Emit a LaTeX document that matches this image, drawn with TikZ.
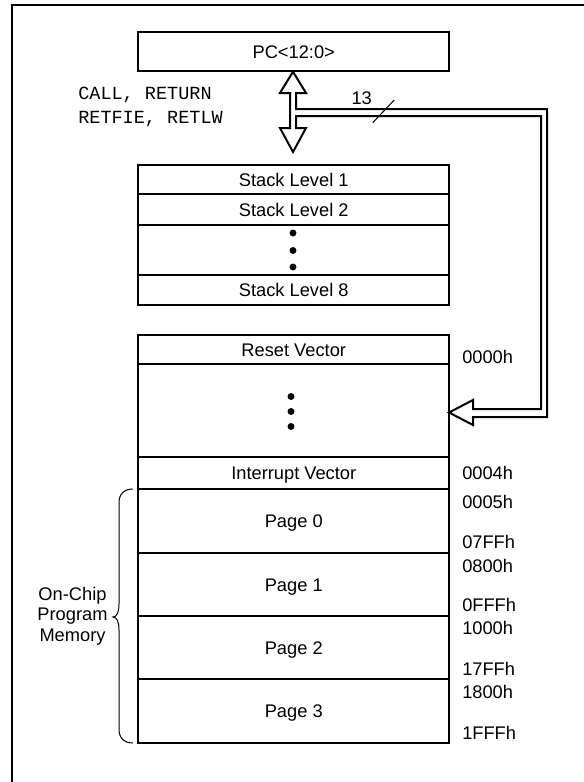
\documentclass[tikz,border=0pt]{standalone}
\usepackage{fontspec}
\setmainfont{Liberation Sans}
\setmonofont{Liberation Mono}
\begin{document}
\begin{tikzpicture}[x=0.75pt,y=-0.75pt,
  txt/.style={font=\fontsize{13.7}{15.4}\selectfont, inner sep=0pt, text height=9.8pt, text depth=0pt},
  cell/.style={txt, draw, line width=1.5pt, minimum width=232.9pt},
  addr/.style={txt, anchor=west},
  mono/.style={font=\ttfamily\fontsize{13.9}{18}\selectfont, inner sep=0pt, text height=8pt, text depth=0pt, anchor=west},
  bus/.style={line width=1.5pt, line join=miter},
  dotmark/.style={circle, fill, inner sep=0pt, minimum size=5.2pt}
]
\useasboundingbox (0,0) rectangle (584,782);
% frame (only left and top edges visible)
\draw[line width=1.5pt] (12,782) -- (12,5) -- (584,5);

% PC box
\node[cell, minimum height=28.8pt] (pc) at (293.75,51.5) {PC<12:0>};

% stack
\node[cell, minimum height=21.75pt] (s1) at (293.75,179.5) {Stack Level 1};
\node[cell, minimum height=23.25pt] (s2) at (293.75,209.5) {Stack Level 2};
\node[cell, minimum height=37.5pt] (sd) at (293.75,250) {};
\node[cell, minimum height=22.5pt] (s8) at (293.75,290) {Stack Level 8};
\node[dotmark] (sd1) at (293,233) {};
\node[dotmark] (sd2) at (293,250.5) {};
\node[dotmark] (sd3) at (293,267) {};

% memory map
\node[cell, minimum height=21.75pt] (rv) at (293.75,349.5) {Reset Vector};
\node[cell, minimum height=69.75pt] (md) at (293.75,410.5) {};
\node[cell, minimum height=24pt] (iv) at (293.75,473) {Interrupt Vector};
\node[cell, minimum height=48pt] (p0) at (293.75,521) {Page 0};
\node[cell, minimum height=47.25pt] (p1) at (293.75,584.5) {Page 1};
\node[cell, minimum height=47.25pt] (p2) at (293.75,647.5) {Page 2};
\node[cell, minimum height=48pt] (p3) at (293.75,711) {Page 3};
\node[dotmark] (md1) at (291,396.5) {};
\node[dotmark] (md2) at (291,411.5) {};
\node[dotmark] (md3) at (291,426.5) {};

% addresses
\node[addr] (a0) at (462,357) {0000h};
\node[addr] (a4) at (462,473) {0004h};
\node[addr] (a5) at (462,502) {0005h};
\node[addr] (a7ff) at (462,542) {07FFh};
\node[addr] (a800) at (462,566) {0800h};
\node[addr] (afff) at (462,605) {0FFFh};
\node[addr] (a1000) at (462,628) {1000h};
\node[addr] (a17ff) at (462,669) {17FFh};
\node[addr] (a1800) at (462,692) {1800h};
\node[addr] (a1fff) at (462,733) {1FFFh};

% instruction labels
\node[mono] (calltxt) at (78,94) {CALL, RETURN};
\node[mono] (rettxt) at (78,118) {RETFIE, RETLW};

% hollow double arrow and bus to memory
\coordinate (tipup) at (pc.south -| 293,0);
\coordinate (tipmem) at (449,412.5);
\draw[bus] (tipup) -- (306,93) -- (296,93) -- (296,109) -- (547,109) -- (547,417)
  -- (473,417) -- (473,425) -- (tipmem) -- (473,400) -- (473,409) -- (541,409)
  -- (541,116) -- (296,116) -- (296,128) -- (306,128) -- (293,152) -- (280,128)
  -- (290,128) -- (290,93) -- (280,93) -- cycle;

% bus width mark
\draw[line width=0.75pt] (372.7,122.7) -- (394.3,100);
\node[txt] (w13) at (361.7,98) {13};

% brace and label
\draw[line width=0.75pt] (133,489) .. controls (124,489) and (119,494) .. (119,503)
  -- (119,604) .. controls (119,612) and (117,617) .. (113,617)
  .. controls (117,617) and (119,622) .. (119,630)
  -- (119,729) .. controls (119,738) and (124,743) .. (133,743);
\node[font=\fontsize{13.7}{15.4}\selectfont, align=center, inner sep=0pt] (onchip) at (72.5,616) {On-Chip\\Program\\Memory};
\end{tikzpicture}
\end{document}
